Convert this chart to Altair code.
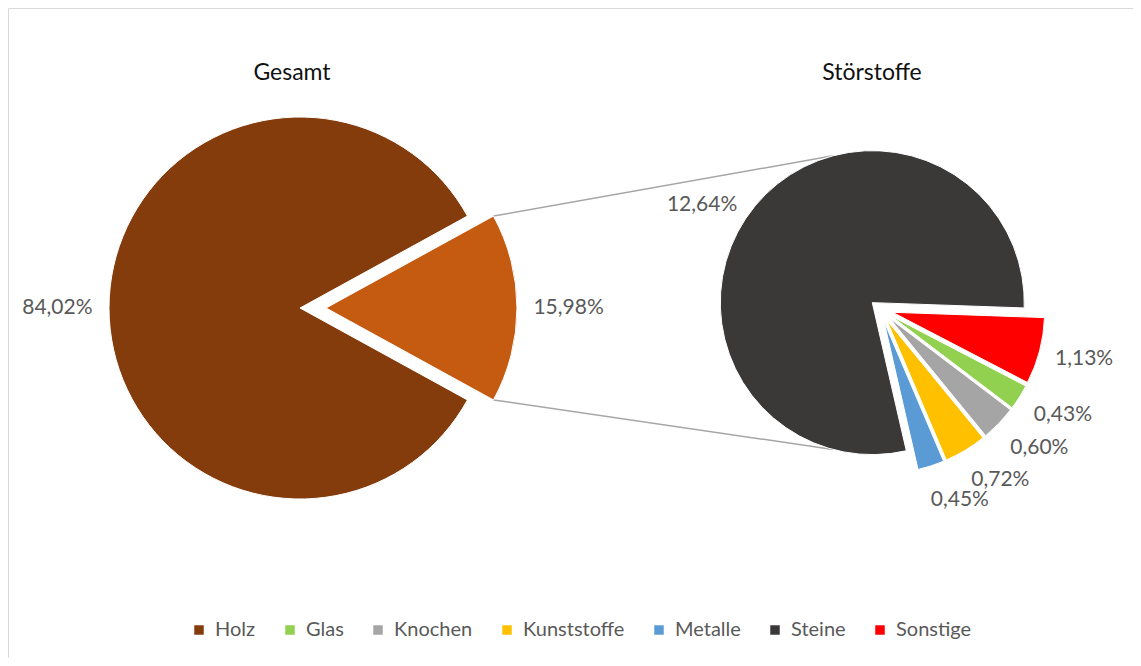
import math
import altair as alt
import pandas as pd

# ---------------- data ----------------
gesamt_cats = ["Störstoffe", "Holz"]
gesamt_vals = [15.98, 84.02]
stoer_cats = ["Sonstige", "Glas", "Knochen", "Kunststoffe", "Metalle", "Steine"]
stoer_vals = [1.13, 0.43, 0.60, 0.72, 0.45, 12.64]
legend_cats = ["Holz", "Glas", "Knochen", "Kunststoffe", "Metalle", "Steine", "Sonstige"]
legend_colors = ["#843C0C", "#92D050", "#A5A5A5", "#FFC000", "#5B9BD5", "#3B3838", "#FF0000"]
split_color = "#C55A11"
titles = ["Gesamt", "Störstoffe"]

# ---------------- layout ----------------
FONT = "Lato"
TXT = "#595959"
W, H = 1125, 650

L_CX, L_CY, L_R, L_EX = 305, 300, 191, 13
R_CX, R_CY, R_R = 872, 301, 152
R_EX_BIG, R_EX_SMALL = 10, 13
share = gesamt_vals[0] / sum(gesamt_vals)
L_START = 90 - share * 180          # split slice centred at 3 o'clock
R_START = 92

color_scale = alt.Scale(domain=legend_cats + ["Störstoffe"],
                        range=legend_colors + [split_color])
legend = alt.Legend(orient="none", legendX=181, legendY=612, direction="horizontal",
                    symbolType="square", symbolSize=90, symbolStrokeWidth=0,
                    labelFont=FONT, labelFontSize=20, labelColor=TXT,
                    columnPadding=24, labelOffset=6, values=legend_cats, title=None)


def pie(cats, vals, cx, cy, r, start_deg, explode_expr, pad_expr, rot_expr="0"):
    df = pd.DataFrame({"cat": cats, "val": vals, "order": list(range(len(cats)))})
    s = math.radians(start_deg)
    base = (
        alt.Chart(df)
        .transform_joinaggregate(total="sum(val)")
        .transform_window(cum="sum(val)", sort=[alt.SortField("order")], frame=[None, 0])
        .transform_calculate(a0=f"{s} + 2*PI*(datum.cum - datum.val)/datum.total")
        .transform_calculate(a1=f"{s} + 2*PI*datum.cum/datum.total")
        .transform_calculate(mid="(datum.a0 + datum.a1)/2")
        .transform_calculate(ex=explode_expr)
        .transform_calculate(px=f"{cx} + datum.ex*sin(datum.mid)")
        .transform_calculate(py=f"{cy} - datum.ex*cos(datum.mid)")
        .transform_calculate(lm=f"datum.mid + ({rot_expr})")
        .transform_calculate(pad=pad_expr)
        .transform_calculate(label="replace(format(datum.val, '.2f'), '.', ',') + '%'")
        .transform_calculate(ext="abs(sin(datum.lm))*5.6*length(datum.label) + abs(cos(datum.lm))*10")
        .transform_calculate(lx=f"datum.px + ({r}+datum.pad+datum.ext)*sin(datum.lm)")
        .transform_calculate(ly=f"datum.py - ({r}+datum.pad+datum.ext)*cos(datum.lm)")
    )
    arcs = base.mark_arc(radius=r, stroke="white", strokeWidth=1).encode(
        theta=alt.Theta("a0:Q", scale=None),
        theta2=alt.Theta2("a1:Q"),
        x=alt.X("px:Q", scale=None, axis=None),
        y=alt.Y("py:Q", scale=None, axis=None),
        color=alt.Color("cat:N", scale=color_scale, legend=legend),
    )
    texts = base.mark_text(font=FONT, fontSize=21, color=TXT).encode(
        x=alt.X("lx:Q", scale=None, axis=None),
        y=alt.Y("ly:Q", scale=None, axis=None),
        text=alt.Text("label:N"))
    return [arcs, texts]


def u(deg):
    a = math.radians(deg)
    return math.sin(a), -math.cos(a)


# connector lines from the split slice to the secondary pie
apexO = (L_CX + L_EX * u(90)[0], L_CY + L_EX * u(90)[1])
p1 = (apexO[0] + L_R * u(L_START)[0], apexO[1] + L_R * u(L_START)[1])
p2 = (apexO[0] + L_R * u(180 - L_START)[0], apexO[1] + L_R * u(180 - L_START)[1])
small_total = sum(stoer_vals[:-1])
steine_start = R_START + small_total / sum(stoer_vals) * 360
steine_mid = (steine_start + R_START + 360) / 2
apexS = (R_CX + R_EX_BIG * u(steine_mid)[0], R_CY + R_EX_BIG * u(steine_mid)[1])
q1 = (apexS[0] + R_R * u(345)[0], apexS[1] + R_R * u(345)[1])
q2 = (apexS[0] + R_R * u(195)[0], apexS[1] + R_R * u(195)[1])
lines_df = pd.DataFrame({"x": [p1[0], p2[0]], "y": [p1[1], p2[1]],
                         "x2": [q1[0], q2[0]], "y2": [q1[1], q2[1]]})
lines = alt.Chart(lines_df).mark_rule(color="#A6A6A6", strokeWidth=1.5).encode(
    x=alt.X("x:Q", scale=None, axis=None), y=alt.Y("y:Q", scale=None, axis=None),
    x2="x2:Q", y2="y2:Q")

border = alt.Chart(pd.DataFrame({"a": [0]})).mark_rect(
    fill="white", stroke="#D9D9D9", strokeWidth=1).encode(
    x=alt.value(0.5), y=alt.value(0.5), x2=alt.value(1400), y2=alt.value(900))

title_df = pd.DataFrame({"t": titles, "i": [0, 1]})
t_left = alt.Chart(title_df).transform_filter("datum.i == 0").mark_text(
    font=FONT, fontSize=23, color="#111111").encode(
    x=alt.value(284), y=alt.value(65), text="t:N")
t_right = alt.Chart(title_df).transform_filter("datum.i == 1").mark_text(
    font=FONT, fontSize=23, color="#111111").encode(
    x=alt.value(864), y=alt.value(65), text="t:N")

left_layers = pie(gesamt_cats, gesamt_vals, L_CX, L_CY, L_R, L_START, f"{L_EX}", "18")
right_layers = pie(
    stoer_cats, stoer_vals, R_CX, R_CY, R_R, R_START,
    f"datum.cat == 'Steine' ? {R_EX_BIG} : {R_EX_SMALL}",
    "datum.cat == 'Steine' ? 10 : 14 + 6*(datum.mid - PI/2)",
    rot_expr="datum.cat == 'Steine' ? -0.17 : -0.07*(datum.mid - PI/2)")

chart = alt.layer(border, lines, *left_layers, *right_layers, t_left, t_right).properties(
    width=W, height=H, autosize="none", padding=0
).configure_view(stroke=None)

chart.save("out.html", embed_options={"renderer": "svg", "actions": False})
